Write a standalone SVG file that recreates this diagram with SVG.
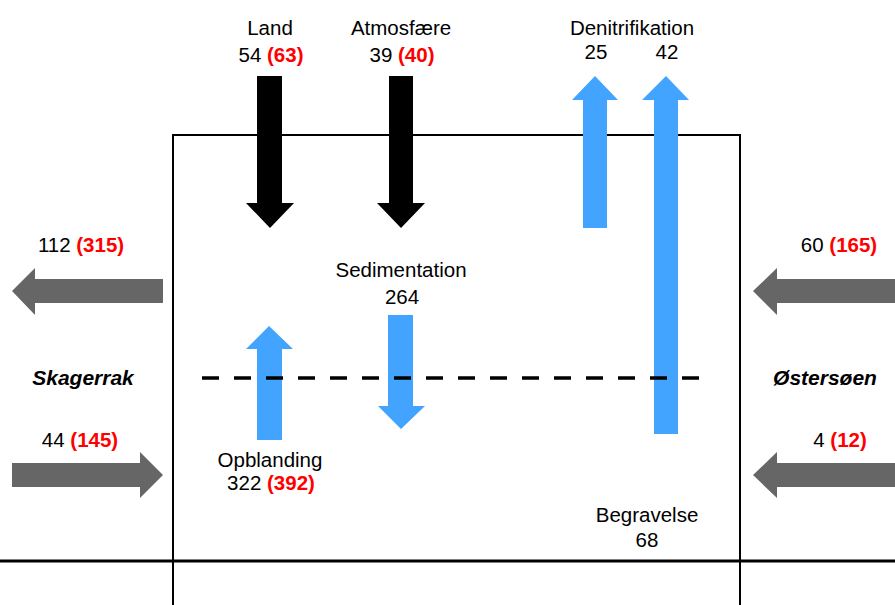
<svg xmlns="http://www.w3.org/2000/svg" width="895" height="605" viewBox="0 0 895 605">
<style>
text{font-family:"Liberation Sans",Arial,sans-serif;font-size:20.5px;fill:#000;text-anchor:middle}
.r{fill:#ff0000;font-weight:bold}
.bi{font-weight:bold;font-style:italic;font-size:21px}
.blk{fill:#000}
.blue{fill:#42a4ff}
.gray{fill:#666666}
.ln{stroke:#000;fill:none}
</style>
<rect width="895" height="605" fill="#fff"/>
<g id="box">
<path class="ln" stroke-width="2" d="M173 605 V135 H740 V605"/>
<line class="ln" stroke-width="3" x1="0" y1="561" x2="895" y2="561"/>
</g>
<g id="connectors">
<polygon id="land-arrow" class="blk" points="257,76 282,76 282,203 294,203 270,228 246,203 257,203"/>
<polygon id="atm-arrow" class="blk" points="389,76 413,76 413,203 425,203 401,228 377,203 389,203"/>
<polygon id="denit1-arrow" class="blue" points="595,76 618,100 607,100 607,228 583,228 583,100 572,100"/>
<polygon id="denit2-arrow" class="blue" points="666,76 689,100 678,100 678,434 654,434 654,100 642,100"/>
<polygon id="opbl-arrow" class="blue" points="269,326 293,349 282,349 282,440 257,440 257,349 246,349"/>
<polygon id="sed-arrow" class="blue" points="388,315 413,315 413,406 425,406 401,429 378,406 388,406"/>
<polygon id="sk-out" class="gray" points="12,291 35,268 35,279 163,279 163,303 35,303 35,315"/>
<polygon id="sk-in" class="gray" points="12,463 140,463 140,452 163,475 140,498 140,487 12,487"/>
<polygon id="os-in1" class="gray" points="753,291 777,268 777,279 895,279 895,303 777,303 777,315"/>
<polygon id="os-in2" class="gray" points="753,475 777,452 777,463 895,463 895,487 777,487 777,498"/>
<line class="ln" stroke-width="3.5" stroke-dasharray="17 15" x1="202" y1="378" x2="699" y2="378"/>
</g>
<g id="land"><text x="270" y="35">Land</text><text x="271" y="62">54 <tspan class="r">(63)</tspan></text></g>
<g id="atmosfaere"><text x="401" y="35">Atmosfære</text><text x="402" y="62">39 <tspan class="r">(40)</tspan></text></g>
<g id="denitrifikation"><text x="632" y="35">Denitrifikation</text><text x="596" y="59">25</text><text x="667" y="59">42</text></g>
<g id="sedimentation"><text x="401" y="277">Sedimentation</text><text x="402" y="304">264</text></g>
<g id="opblanding"><text x="270" y="467">Opblanding</text><text x="271" y="490">322 <tspan class="r">(392)</tspan></text></g>
<g id="begravelse"><text x="647" y="522">Begravelse</text><text x="647" y="547">68</text></g>
<g id="skagerrak"><text x="81" y="252">112 <tspan class="r">(315)</tspan></text><text class="bi" x="83" y="385">Skagerrak</text><text x="80" y="447">44 <tspan class="r">(145)</tspan></text></g>
<g id="ostersoen"><text x="839" y="252">60 <tspan class="r">(165)</tspan></text><text class="bi" x="825" y="385">Østersøen</text><text x="840" y="447">4 <tspan class="r">(12)</tspan></text></g>
</svg>
